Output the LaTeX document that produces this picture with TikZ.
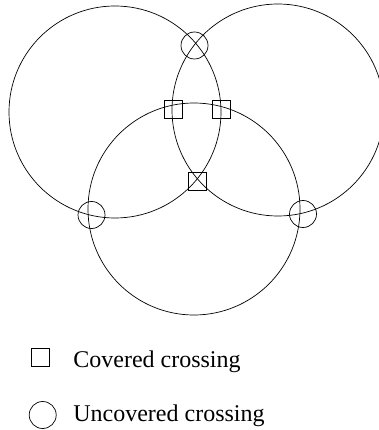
\documentclass[tikz,border=0pt]{standalone}
\usepackage{fontspec}
\setmainfont{Liberation Serif}
\begin{document}
\begin{tikzpicture}[x=1pt,y=-1pt, line width=0.7pt,
  bigring/.style={draw,circle,minimum size=212pt,inner sep=0pt},
  sqmark/.style={draw,rectangle,minimum size=18pt,inner sep=0pt},
  ringmark/.style={draw,circle,minimum size=27pt,inner sep=0pt},
  lbl/.style={anchor=base west,inner sep=0pt,font=\fontsize{24}{28}\selectfont}]
\useasboundingbox (0,0) rectangle (378,430);
% three large circles
\node[bigring] (cl) at (115,112) {};
\node[bigring] (cr) at (278,110) {};
\node[bigring] (cb) at (194,209) {};
% covered crossings
\node[sqmark] (s1) at (173,109) {};
\node[sqmark] (s2) at (221.5,109) {};
\node[sqmark] (s3) at (197.3,181.5) {};
% uncovered crossings
\node[ringmark] (u1) at (194.5,45.5) {};
\node[ringmark] (u2) at (91.5,215) {};
\node[ringmark] (u3) at (303,214) {};
% legend
\node[sqmark] (ls) at (40.3,357.5) {};
\node[lbl] (lt1) at (73,367) {Covered crossing};
\node[ringmark] (lc) at (42.7,415) {};
\node[lbl] (lt2) at (73,421) {Uncovered crossing};
\end{tikzpicture}
\end{document}
